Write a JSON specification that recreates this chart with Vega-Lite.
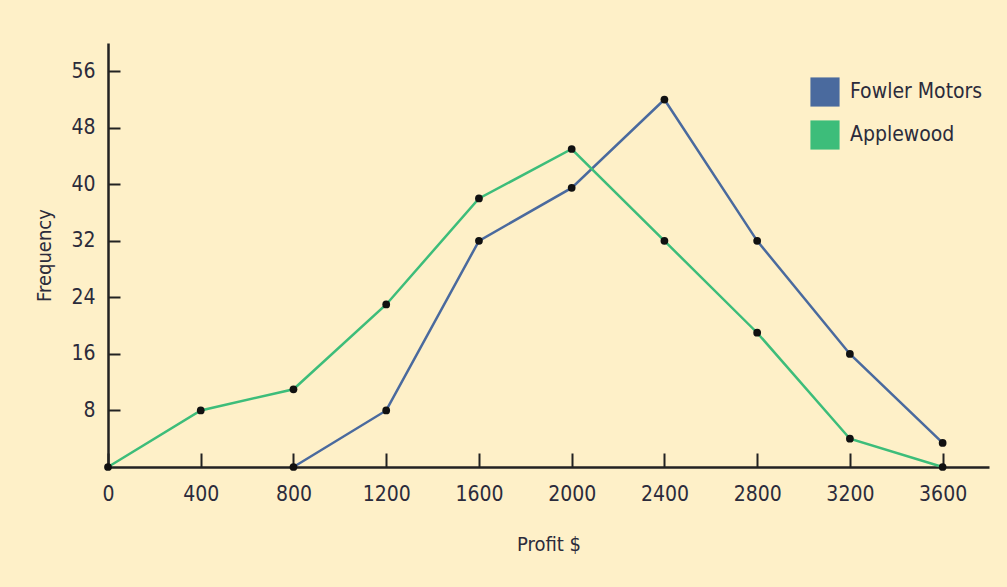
{
  "$schema": "https://vega.github.io/schema/vega-lite/v6.json",
  "width": 881,
  "height": 424,
  "autosize": {"type": "none"},
  "padding": {"left": 108, "top": 43, "right": 18, "bottom": 120},
  "background": "#FEF0C8",
  "config": {
    "view": {"stroke": null},
    "font": "DejaVu Sans Condensed, Liberation Sans Narrow, sans-serif",
    "axis": {
      "domainColor": "#222222",
      "domainWidth": 2.5,
      "tickColor": "#222222",
      "tickWidth": 2,
      "grid": false,
      "labelFont": "DejaVu Sans Condensed, Liberation Sans Narrow, sans-serif",
      "labelFontSize": 21,
      "labelColor": "#2b2b3b",
      "titleFont": "DejaVu Sans Condensed, Liberation Sans Narrow, sans-serif",
      "titleFontSize": 20,
      "titleFontWeight": "normal",
      "titleColor": "#2b2b3b"
    }
  },
  "data": {
    "values": [
      {"profit": 800, "freq": 0, "dealer": "Fowler Motors"},
      {"profit": 1200, "freq": 8, "dealer": "Fowler Motors"},
      {"profit": 1600, "freq": 32, "dealer": "Fowler Motors"},
      {"profit": 2000, "freq": 39.5, "dealer": "Fowler Motors"},
      {"profit": 2400, "freq": 52, "dealer": "Fowler Motors"},
      {"profit": 2800, "freq": 32, "dealer": "Fowler Motors"},
      {"profit": 3200, "freq": 16, "dealer": "Fowler Motors"},
      {"profit": 3600, "freq": 3.4, "dealer": "Fowler Motors"},
      {"profit": 0, "freq": 0, "dealer": "Applewood"},
      {"profit": 400, "freq": 8, "dealer": "Applewood"},
      {"profit": 800, "freq": 11, "dealer": "Applewood"},
      {"profit": 1200, "freq": 23, "dealer": "Applewood"},
      {"profit": 1600, "freq": 38, "dealer": "Applewood"},
      {"profit": 2000, "freq": 45, "dealer": "Applewood"},
      {"profit": 2400, "freq": 32, "dealer": "Applewood"},
      {"profit": 2800, "freq": 19, "dealer": "Applewood"},
      {"profit": 3200, "freq": 4, "dealer": "Applewood"},
      {"profit": 3600, "freq": 0, "dealer": "Applewood"}
    ]
  },
  "encoding": {
    "x": {
      "field": "profit", "type": "quantitative",
      "scale": {"domain": [0, 3800], "nice": false},
      "axis": {
        "title": "Profit $",
        "format": "d",
        "values": [0, 400, 800, 1200, 1600, 2000, 2400, 2800, 3200, 3600],
        "tickSize": -14,
        "labelPadding": 30,
        "labelFlush": false,
        "labelOverlap": false,
        "titlePadding": 30
      }
    },
    "y": {
      "field": "freq", "type": "quantitative",
      "scale": {"domain": [0, 60], "nice": false},
      "axis": {
        "title": "Frequency",
        "format": "d",
        "values": [8, 16, 24, 32, 40, 48, 56],
        "tickSize": -12,
        "labelPadding": 25,
        "labelFlush": false,
        "labelOverlap": false,
        "titlePadding": 16
      }
    }
  },
  "layer": [
    {
      "mark": {"type": "line", "strokeWidth": 2.5, "clip": false},
      "encoding": {
        "color": {
          "field": "dealer", "type": "nominal",
          "scale": {"domain": ["Fowler Motors", "Applewood"], "range": ["#4A6A9E", "#3DBD7A"]},
          "legend": {
            "title": null,
            "orient": "none",
            "legendX": 702,
            "legendY": 34,
            "symbolType": "square",
            "symbolSize": 850,
            "symbolOpacity": 1,
            "labelFont": "DejaVu Sans Condensed, Liberation Sans Narrow, sans-serif",
            "labelFontSize": 21,
            "labelColor": "#2b2b3b",
            "rowPadding": 13,
            "labelOffset": 10,
            "encode": {
              "symbols": {
                "update": {
                  "fill": {"scale": "color", "field": "value"},
                  "stroke": {"value": "transparent"},
                  "strokeWidth": {"value": 0}
                }
              }
            }
          }
        }
      }
    },
    {
      "mark": {"type": "point", "filled": true, "color": "#111111", "size": 60, "opacity": 1, "clip": false},
      "encoding": {
        "detail": {"field": "dealer", "type": "nominal"}
      }
    }
  ]
}
